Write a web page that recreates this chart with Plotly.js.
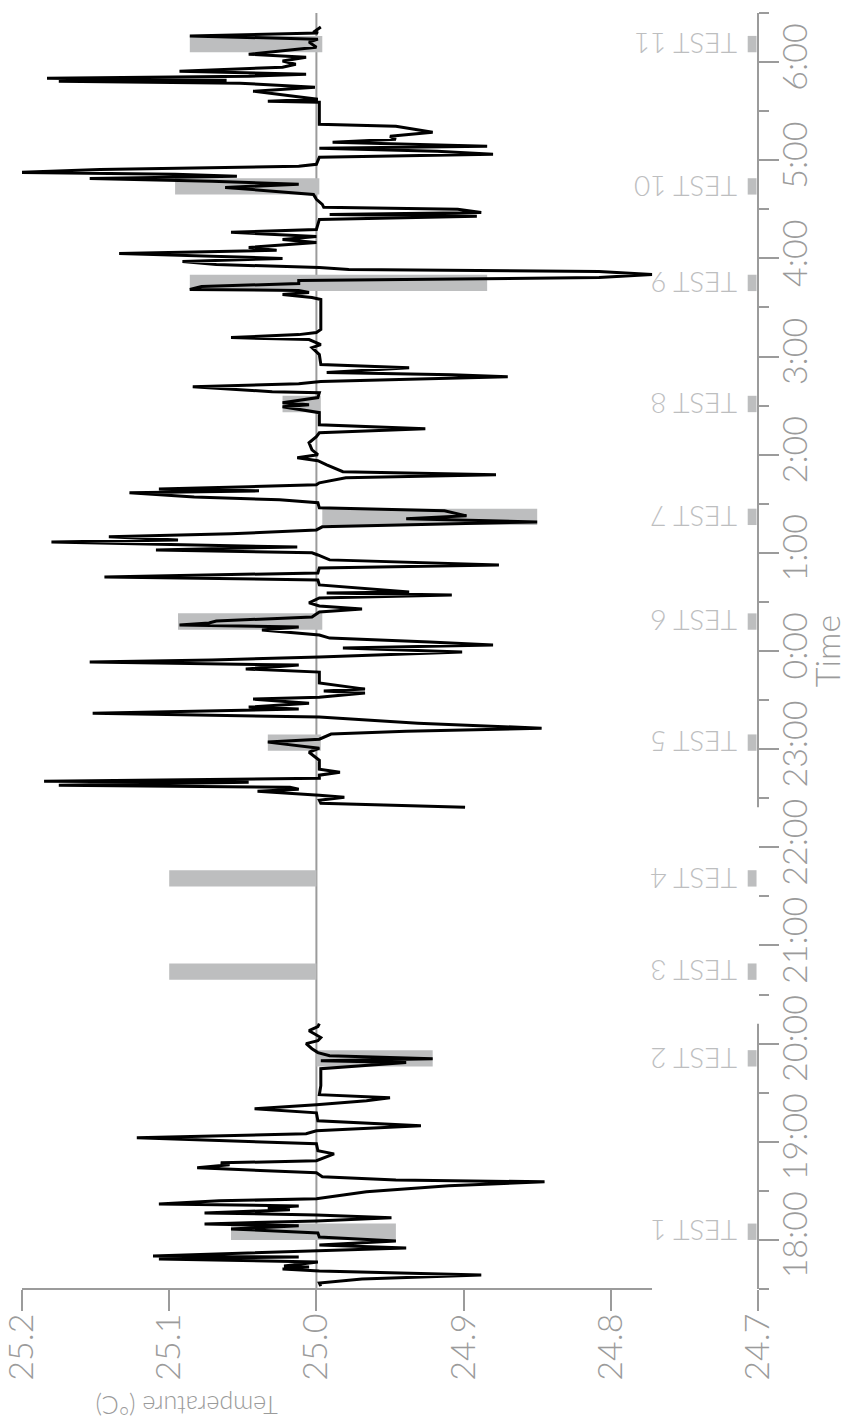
<!DOCTYPE html>
<html>
<head>
<meta charset="utf-8">
<script src="https://cdn.plot.ly/plotly-3.0.1.min.js"></script>
<style>
  html, body { margin: 0; padding: 0; background: #ffffff; }
  #chart { width: 847px; height: 1424px; }
</style>
</head>
<body>
<div id="chart"></div>
<script>
// ---------- DATA ----------
// Times are minutes after 17:00 (evening) ; temperatures in °C
const seg1Minutes = [
  31.8, 33.7, 36.1, 38.6, 41.0, 42.2, 43.5, 44.1, 46.5, 48.4,
  49.6, 50.2, 51.4, 53.3, 55.1, 56.9, 59.4, 61.8, 64.3, 66.7,
  68.6, 69.8, 71.6, 73.5, 75.3, 76.5, 78.4, 79.6, 80.8, 82.0,
  83.9, 85.1, 89.4, 93.1, 95.5, 96.7, 98.6, 101.0, 104.1, 105.9,
  107.1, 108.4, 112.6, 114.5, 118.8, 122.4, 124.9, 126.7, 129.8, 132.8,
  137.7, 140.2, 142.6, 145.1, 146.9, 148.8, 154.3, 164.7, 168.4, 169.6,
  170.8, 172.6, 174.5, 176.9, 180.0, 181.8, 183.7, 187.9, 190.4, 192.2
];
const seg1Temp = [
  24.997, 24.998, 24.969, 24.888, 24.998, 25.023, 25.005, 25.022, 24.999, 25.107,
  25.012, 25.111, 25.068, 25.000, 24.939, 24.998, 24.946, 24.998, 24.999, 25.058,
  25.012, 25.076, 25.000, 24.949, 25.000, 25.076, 25.018, 25.033, 25.012, 25.107,
  25.066, 25.000, 24.966, 24.910, 24.845, 24.946, 24.996, 25.000, 25.081, 25.059,
  25.065, 25.000, 24.988, 24.999, 25.000, 25.122, 25.007, 25.000, 24.929, 24.999,
  25.000, 25.042, 25.000, 24.966, 24.950, 24.998, 24.997, 24.997, 24.939, 24.997,
  24.921, 24.991, 24.999, 25.003, 25.007, 24.999, 24.997, 25.005, 24.999, 24.998
];
const seg2Minutes = [
  324.5, 326.9, 328.8, 330.6, 331.8, 334.3, 335.5, 336.7, 337.9, 339.8,
  340.4, 342.2, 344.1, 345.9, 347.7, 353.2, 358.1, 360.6, 364.3, 366.1,
  369.2, 371.0, 372.8, 375.9, 379.6, 382.0, 384.5, 385.7, 388.1, 390.6,
  391.8, 394.3, 395.5, 396.7, 400.4, 407.1, 409.0, 411.4, 413.2, 414.5,
  416.3, 419.4, 421.8, 423.6, 425.5, 427.9, 429.8, 432.8, 434.7, 435.9,
  437.1, 438.3, 440.8, 443.8, 445.7, 447.5, 449.4, 452.4, 454.3, 455.5,
  456.1, 457.9, 460.4, 463.4, 465.3, 467.7, 470.8, 472.6, 475.7, 478.7,
  480.0, 481.8, 483.6, 484.9, 486.7, 487.9, 489.8, 491.6, 494.0, 495.9,
  498.9, 500.8, 502.6, 505.7, 507.5, 510.6, 512.4, 514.2, 516.7, 517.9,
  519.1, 520.4, 521.6, 522.8, 525.9, 527.7, 529.6, 533.8, 536.3, 538.1,
  540.0, 543.0, 547.3, 551.0, 553.4, 555.9, 558.3, 565.7, 569.3, 570.6,
  571.8, 574.9, 577.9, 578.5, 581.6, 583.4, 584.7, 587.7, 588.9, 590.2,
  593.2, 595.1, 601.2, 605.5, 607.3, 610.4, 611.6, 613.4, 614.7, 616.5,
  634.9, 636.1, 637.9, 639.1, 640.4, 641.0, 642.8, 644.6, 646.5, 648.3,
  650.1, 652.0, 653.2, 654.4, 656.3, 658.1, 660.0, 663.0, 664.9, 666.7,
  669.7, 671.6, 673.4, 675.9, 677.7, 683.8, 685.7, 686.9, 688.1, 690.0,
  691.2, 693.0, 696.1, 699.1, 703.4, 705.3, 707.1, 708.9, 710.2, 711.4,
  712.6, 714.4, 716.3, 717.5, 721.8, 723.6, 725.5, 727.3, 728.5, 731.0,
  732.8, 734.6, 737.1, 740.8, 742.0, 755.5, 756.1, 757.3, 759.1, 762.2,
  764.6, 767.1, 768.3, 768.9, 770.1, 771.4, 772.6, 774.4, 776.9, 778.7,
  780.6, 783.0, 784.8, 786.7, 789.1, 792.2, 794.0, 795.9, 797.7, 798.9,
  801.4
];
const seg2Temp = [
  24.899, 24.997, 24.998, 24.981, 24.998, 25.040, 25.012, 25.018, 25.175, 25.046,
  25.185, 24.998, 24.998, 24.984, 24.998, 24.998, 25.005, 24.998, 25.033, 24.998,
  24.990, 24.939, 24.847, 24.931, 24.998, 25.152, 25.012, 25.046, 25.005, 25.043,
  24.998, 24.967, 24.995, 24.967, 24.998, 24.998, 25.048, 25.012, 25.154, 25.071,
  24.998, 24.901, 24.982, 24.880, 24.923, 24.991, 24.998, 25.037, 25.012, 25.093,
  25.073, 25.068, 25.003, 24.998, 24.969, 24.998, 25.005, 24.998, 24.908, 24.993,
  24.937, 24.965, 24.998, 24.999, 25.144, 24.999, 24.998, 24.876, 24.991, 24.999,
  25.003, 25.109, 25.013, 25.091, 25.180, 25.094, 25.141, 25.058, 25.000, 24.996,
  24.850, 24.939, 24.898, 24.913, 24.998, 24.999, 25.025, 25.083, 25.127, 25.039,
  25.107, 25.046, 25.000, 24.998, 24.980, 24.878, 24.982, 24.993, 24.999, 25.013,
  24.999, 25.003, 25.005, 25.000, 24.998, 24.926, 24.998, 24.998, 25.023, 25.005,
  25.023, 24.999, 24.998, 25.030, 25.084, 25.012, 24.997, 24.870, 24.908, 24.993,
  24.937, 24.997, 24.998, 25.003, 24.997, 25.005, 25.058, 25.012, 25.000, 24.997,
  24.997, 25.003, 25.023, 25.005, 25.012, 25.086, 25.078, 25.012, 25.012, 24.808,
  24.772, 24.808, 24.978, 24.998, 25.068, 25.091, 25.023, 25.134, 25.027, 25.046,
  25.000, 25.023, 25.000, 25.058, 25.000, 24.998, 24.891, 24.991, 24.888, 24.904,
  24.995, 24.996, 25.000, 25.002, 25.062, 25.012, 25.071, 25.154, 25.054, 25.096,
  25.203, 25.147, 25.012, 25.000, 24.998, 24.880, 24.918, 24.998, 24.884, 24.989,
  24.946, 24.950, 24.921, 24.946, 24.998, 24.998, 25.033, 24.999, 25.014, 25.043,
  25.001, 25.052, 25.175, 25.061, 25.183, 25.046, 25.007, 25.093, 25.023, 25.014,
  25.023, 25.007, 25.046, 25.027, 25.000, 25.005, 24.999, 25.086, 24.999, 25.001,
  24.997
];

const testNames = ['TEST 1','TEST 2','TEST 3','TEST 4','TEST 5','TEST 6','TEST 7','TEST 8','TEST 9','TEST 10','TEST 11'];
const testStartMinutes = [60, 166, 219, 276, 359, 433, 497, 566, 640, 699, 786];
const testDurationMinutes = 10;
const testLow  = [24.946, 24.921, 25.000, 25.000, 24.997, 24.996, 24.850, 24.997, 24.884, 24.998, 24.996];
const testHigh = [25.058, 25.000, 25.100, 25.100, 25.033, 25.094, 24.996, 25.023, 25.086, 25.096, 25.086];

const tempTickVals = [24.7, 24.8, 24.9, 25.0, 25.1, 25.2];
const tempTickText = ['24.7', '24.8', '24.9', '25.0', '25.1', '25.2'];
const timeRangeMinutes = [30, 810];      // 17:30 .. 6:30
const tempRange = [25.2, 24.7];          // reversed: warm on the left
const referenceTemp = 25.0;

// ---------- HELPERS ----------
function toDate(min) {
  const t = new Date(Date.UTC(2020, 0, 1, 17, 0, 0) + Math.round(min * 60000));
  return t.toISOString().replace('T', ' ').slice(0, 19);
}
const GREY = '#9b9b9b';
const LIGHT = '#bdbebf';
const FONT = 'Lato, "Open Sans", sans-serif';

const allTemps = seg1Temp.concat(seg2Temp);
const tMin = Math.min.apply(null, allTemps);
const tMax = Math.max.apply(null, allTemps);

const testCenters = testStartMinutes.map(m => toDate(m + testDurationMinutes / 2));
const widthMs = testDurationMinutes * 60000;

// ---------- TRACES ----------
const bars = {
  type: 'bar', orientation: 'h',
  y: testCenters,
  x: testHigh.map((h, i) => h - testLow[i]),
  base: testLow,
  width: testCenters.map(() => widthMs),
  marker: { color: LIGHT, line: { width: 0 } },
  hoverinfo: 'skip', showlegend: false
};
const markers = {
  type: 'bar', orientation: 'h',
  y: testCenters,
  x: testCenters.map(() => 0.006),
  base: testCenters.map(() => 24.701),
  width: testCenters.map(() => widthMs),
  marker: { color: LIGHT, line: { width: 0 } },
  hoverinfo: 'skip', showlegend: false
};
const line1 = {
  type: 'scatter', mode: 'lines',
  y: seg1Minutes.map(toDate), x: seg1Temp,
  line: { color: '#000000', width: 3 },
  showlegend: false
};
const line2 = {
  type: 'scatter', mode: 'lines',
  y: seg2Minutes.map(toDate), x: seg2Temp,
  line: { color: '#000000', width: 3 },
  showlegend: false
};

// ---------- SHAPES (axis range-frame lines, reference line) ----------
const shapes = [
  { type: 'line', layer: 'below', xref: 'x', yref: 'paper', x0: referenceTemp, x1: referenceTemp, y0: 0, y1: 1,
    line: { color: GREY, width: 2 } },
  { type: 'line', xref: 'x', yref: 'paper', x0: tMax, x1: tMin, y0: 0, y1: 0,
    line: { color: GREY, width: 2 } },
  { type: 'line', xref: 'paper', yref: 'y', x0: 1, x1: 1,
    y0: toDate(timeRangeMinutes[0]), y1: toDate(seg1Minutes[seg1Minutes.length - 1]),
    line: { color: GREY, width: 2 } },
  { type: 'line', xref: 'paper', yref: 'y', x0: 1, x1: 1,
    y0: toDate(seg2Minutes[0]), y1: toDate(timeRangeMinutes[1]),
    line: { color: GREY, width: 2 } }
];

// ---------- ANNOTATIONS ----------
const annotations = testNames.map((name, i) => ({
  xref: 'x', yref: 'y', x: tempRange[1], y: testCenters[i],
  text: name, showarrow: false, textangle: 180,
  xanchor: 'right', yanchor: 'middle', xshift: -19,
  font: { family: FONT, size: 28, color: LIGHT, weight: 300 }
}));
annotations.push({
  xref: 'paper', yref: 'paper', x: 0.224, y: 0, yshift: -117,
  text: 'Temperature (°C)', showarrow: false, textangle: 180,
  xanchor: 'center', yanchor: 'middle',
  font: { family: FONT, size: 25, color: GREY, weight: 300 }
});

const layout = {
  width: 847, height: 1424,
  margin: { l: 22, r: 89, t: 13, b: 135, pad: 0 },
  paper_bgcolor: '#ffffff', plot_bgcolor: '#ffffff',
  showlegend: false, barmode: 'overlay', hovermode: false,
  font: { family: FONT, color: GREY, weight: 300 },
  xaxis: {
    range: tempRange, tickmode: 'array', tickvals: tempTickVals, ticktext: tempTickText,
    ticks: 'outside', ticklen: 21, tickwidth: 2, tickcolor: GREY, ticklabelstandoff: -11,
    ticklabeloverflow: 'allow',
    tickangle: -90, tickfont: { family: FONT, size: 34, color: GREY, weight: 300 },
    showgrid: false, zeroline: false, showline: false, fixedrange: true
  },
  yaxis: {
    type: 'date', side: 'right',
    range: [toDate(timeRangeMinutes[0]), toDate(timeRangeMinutes[1])],
    tick0: toDate(60), dtick: 3600000, tickformat: '%-H:%M',
    ticks: 'outside', ticklen: 20, tickwidth: 2, tickcolor: GREY, ticklabelstandoff: -13,
    ticklabeloverflow: 'allow',
    minor: { tick0: toDate(30), dtick: 1800000, ticks: 'outside', ticklen: 10, tickwidth: 2, tickcolor: GREY, showgrid: false },
    tickangle: -90, tickfont: { family: FONT, size: 34, color: GREY, weight: 300 },
    title: { text: 'Time', standoff: 2, font: { family: FONT, size: 34, color: GREY, weight: 300 } },
    showgrid: false, zeroline: false, showline: false, fixedrange: true
  },
  shapes: shapes,
  annotations: annotations
};

Plotly.newPlot('chart', [bars, markers, line1, line2], layout, { displayModeBar: false, staticPlot: true });
</script>
</body>
</html>
